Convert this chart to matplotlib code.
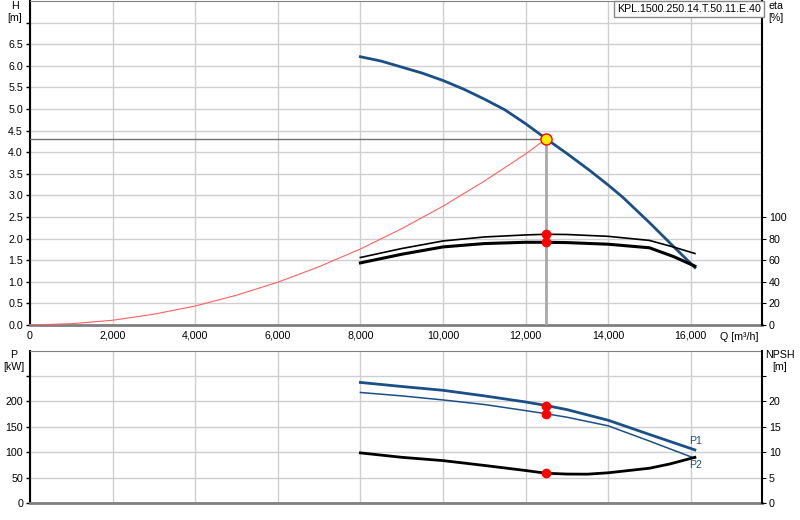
import matplotlib
matplotlib.use("Agg")
import matplotlib.pyplot as plt
from matplotlib.ticker import FuncFormatter

plt.rcParams['font.family'] = ['Liberation Sans', 'DejaVu Sans']
plt.rcParams['font.size'] = 7.7

# head curve
q_h = [8000, 8500, 9000, 9500, 10000, 10500, 11000, 11500, 12000, 12500, 13000,
       13550, 14000, 14350, 15000, 15200, 15600, 16100]
head = [6.21, 6.11, 5.97, 5.83, 5.66, 5.46, 5.23, 4.98, 4.66, 4.31, 3.97,
        3.58, 3.24, 2.96, 2.37, 2.18, 1.80, 1.33]

# system curve
q_sys = [0, 1000, 2000, 3000, 4000, 5000, 6000, 7000, 8000, 9000, 10000, 11000, 12000, 12500]
h_sys = [0.0, 0.03, 0.11, 0.25, 0.44, 0.69, 0.99, 1.35, 1.76, 2.23, 2.75, 3.33, 3.96, 4.31]

# efficiencies
q_eta = [8000, 9000, 10000, 11000, 12000, 12500, 13000, 14000, 15000, 15600, 16100]
eta_hyd = [62.5, 70.8, 77.8, 81.5, 83.4, 84.0, 83.8, 82.1, 78.3, 72.0, 66.2]
eta_tot = [57.5, 65.5, 72.3, 75.4, 76.6, 76.6, 76.3, 74.8, 71.5, 63.1, 54.5]

# power and npsh
q_p = [8000, 9000, 10000, 11000, 12000, 12500, 13000, 14000, 15000, 16100]
p1 = [237.5, 229.5, 222, 211, 199, 192, 184, 163, 135, 104.6]
p2 = [217.7, 211, 203, 194, 182, 175.7, 169, 152, 122, 88]
q_npsh = [8000, 9000, 10000, 11000, 12000, 12500, 13000, 13500, 14000, 15000, 15500, 16100]
npsh = [9.87, 9.0, 8.35, 7.4, 6.4, 5.86, 5.7, 5.68, 5.95, 6.85, 7.7, 9.0]

q_op, h_op = 12500, 4.31
eta_op = [84.0, 76.6]
p_op = [192, 175.7]
npsh_op = 5.86

x_ticks = [0, 2000, 4000, 6000, 8000, 10000, 12000, 14000, 16000]
blue = '#1b4f87'
grid_c = '#cfcfcf'
xmax = 17725

fig = plt.figure(figsize=(8, 5.2), dpi=100)
ax = fig.add_axes([30/800, 1 - 325/520, 732/800, 324/520])
axb = fig.add_axes([30/800, 1 - 503/520, 732/800, (503 - 350.7)/520])

def style(a, ymax, yticks):
    a.set_xlim(0, xmax)
    a.set_ylim(0, ymax)
    a.set_xticks(x_ticks)
    a.set_yticks(yticks)
    a.grid(True, color=grid_c, lw=1)
    a.set_axisbelow(True)
    a.spines['left'].set_color('black')
    a.spines['left'].set_linewidth(1.5)
    a.spines['bottom'].set_color('#808080')
    a.spines['bottom'].set_linewidth(2)
    a.spines['top'].set_color('#808080')
    a.spines['right'].set_visible(False)
    a.tick_params(axis='y', length=3, pad=2, width=1)
    a.tick_params(axis='x', length=0, pad=4)

style(ax, 7.5, [i * 0.5 for i in range(15)])
ax.yaxis.set_major_formatter(FuncFormatter(lambda v, p: '' if v > 6.6 else f'{v:.1f}'))
ax.xaxis.set_major_formatter(FuncFormatter(lambda v, p: f'{int(v):,}'))

style(axb, 300, [0, 50, 100, 150, 200, 250])
axb.yaxis.set_major_formatter(FuncFormatter(lambda v, p: '' if v > 210 else f'{int(v)}'))
axb.set_xticklabels([])

# twin axes
ax2 = ax.twinx()
ax2.set_ylim(0, 300)
ax2.set_yticks([0, 20, 40, 60, 80, 100])
for s in ['left', 'top', 'bottom']:
    ax2.spines[s].set_visible(False)
ax2.spines['right'].set_linewidth(1.5)
ax2.tick_params(axis='y', length=3, pad=2)

axb2 = axb.twinx()
axb2.set_ylim(0, 30)
axb2.set_yticks([0, 5, 10, 15, 20, 25])
axb2.yaxis.set_major_formatter(FuncFormatter(lambda v, p: '' if v > 21 else f'{int(v)}'))
for s in ['left', 'top', 'bottom']:
    axb2.spines[s].set_visible(False)
axb2.spines['right'].set_linewidth(1.5)
axb2.tick_params(axis='y', length=3, pad=2)

# top chart
ax.plot(q_sys, h_sys, color='#ff6060', lw=0.8, zorder=3)
ax.plot([0, q_op], [h_op, h_op], color='#707070', lw=1, zorder=3)
ax.plot([q_op, q_op], [0, h_op], color='#a8a8a8', lw=2, zorder=3)
ax.plot(q_h, head, color=blue, lw=2, zorder=4)
ax2.plot(q_eta, eta_hyd, color='black', lw=1.2, zorder=4)
ax2.plot(q_eta, eta_tot, color='black', lw=2.2, zorder=4)
ax2.plot([q_op, q_op], eta_op, 'o', color='red', ms=6, zorder=5)
ax2.plot([q_op], [h_op * 40], 'o', color='#ffee00', mec='red', mew=1, ms=8, zorder=6)

ax.text(xmax * 0.995, -0.28, 'Q [m³/h]', ha='right', va='center')
fig.text(15/800, 1 - 6/520, 'H', ha='center', va='center')
fig.text(15/800, 1 - 18/520, '[m]', ha='center', va='center')
fig.text(776/800, 1 - 6/520, 'eta', ha='center', va='center')
fig.text(776/800, 1 - 18/520, '[%]', ha='center', va='center')
fig.text(617/800, 1 - 9/520, 'KPL.1500.250.14.T.50.11.E.40', ha='left', va='center',
         bbox=dict(boxstyle='square,pad=0.3', fc='white', ec='#888888', lw=1))

# bottom chart
axb.plot(q_p, p1, color=blue, lw=2, zorder=4)
axb.plot(q_p, p2, color=blue, lw=1.1, zorder=4)
axb2.plot(q_npsh, npsh, color='black', lw=2, zorder=4)
axb.plot([q_op, q_op], p_op, 'o', color='red', ms=6, zorder=5)
axb2.plot([q_op], [npsh_op], 'o', color='red', ms=6, zorder=5)
axb.text(q_p[-1] + 20, p1[-1] + 8, 'P1', color=blue, ha='center', va='bottom')
axb.text(q_p[-1] + 20, p2[-1] - 4, 'P2', color=blue, ha='center', va='top')

fig.text(14/800, 1 - 355/520, 'P', ha='center', va='center')
fig.text(14/800, 1 - 367/520, '[kW]', ha='center', va='center')
fig.text(780/800, 1 - 355/520, 'NPSH', ha='center', va='center')
fig.text(780/800, 1 - 367/520, '[m]', ha='center', va='center')

fig.savefig('out.png', dpi=100)
